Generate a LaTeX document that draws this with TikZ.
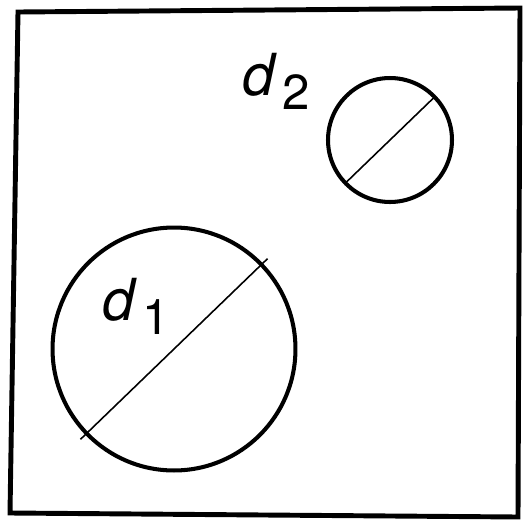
\documentclass[tikz,border=0pt]{standalone}
\usepackage{fontspec}
\setmainfont{TeX Gyre Heros}
\usetikzlibrary{calc}
\tikzset{
  frame/.style = {line width=2.8pt, line join=miter},
  ring/.style  = {circle, draw, line width=2.3pt, inner sep=0pt, outer sep=0pt},
  diam/.style  = {line width=0.9pt},
  lbl/.style   = {anchor=base west, inner sep=0pt, font=\fontsize{33}{33}\selectfont},
}
\newcommand{\dsub}[1]{\textit{d}\kern3pt\raisebox{-8.5pt}{\fontsize{28}{28}\selectfont #1}}

\begin{document}
\begin{tikzpicture}[x=0.02cm,y=-0.02cm]
  \useasboundingbox (0,0) rectangle (525,525);
  % outer plate
  \draw[frame] (18,12) -- (520,8) -- (518,517) -- (10,513) -- cycle;
  % the two holes
  \node[ring, minimum size=4.86cm] (big) at (174,349) {};
  \node[ring, minimum size=2.48cm] (small) at (390,140) {};
  \draw[diam] ($(big.center)!1.07!(big.44)$) -- ($(big.center)!1.07!(big.224)$);
  \draw[diam] (small.44) -- (small.224);
  \node[lbl] (d1) at (102,320) {\dsub{1}};
  \node[lbl] (d2) at (242,95) {\dsub{2}};
\end{tikzpicture}
\end{document}
